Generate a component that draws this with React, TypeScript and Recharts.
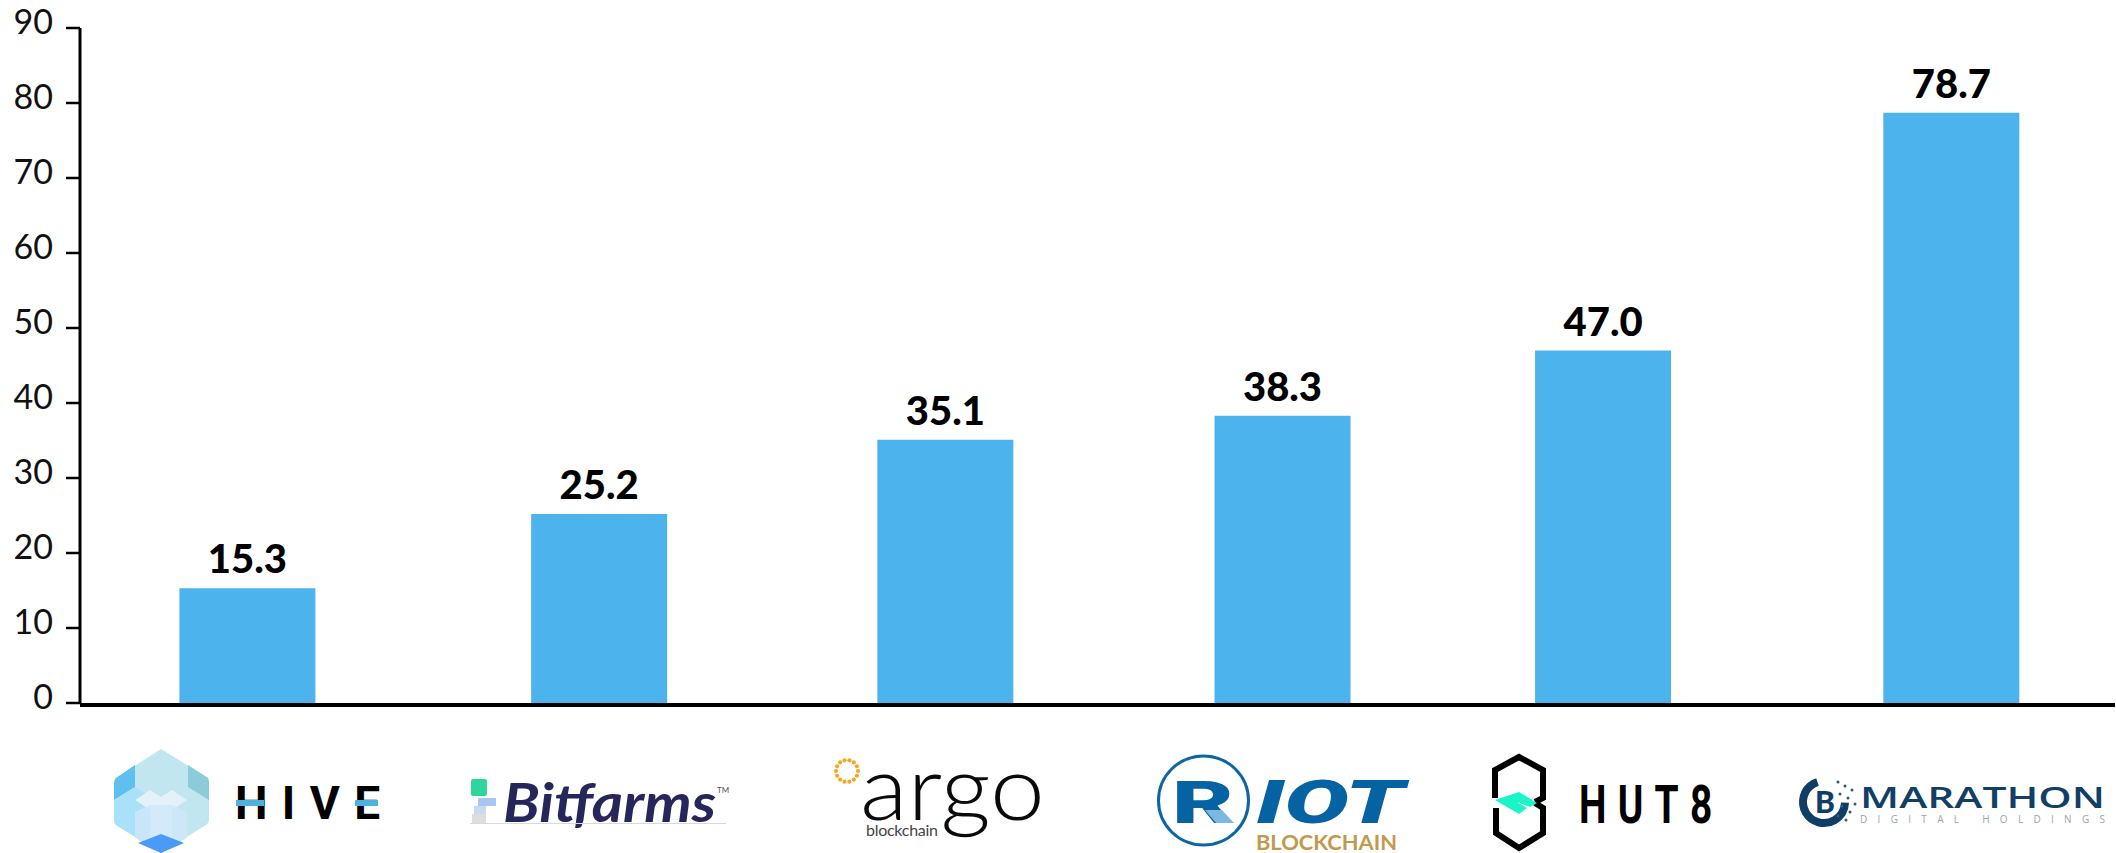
import { BarChart, Bar, XAxis, YAxis, LabelList, Rectangle } from "recharts";

// Values
const companies = ["HIVE", "Bitfarms", "Argo", "Riot", "Hut 8", "Marathon"];
const values = [15.3, 25.2, 35.1, 38.3, 47.0, 78.7];
const yTicks = [0, 10, 20, 30, 40, 50, 60, 70, 80, 90];

const chartData = companies.map((name, i) => ({ name, value: values[i] }));

const FONT = "Lato, sans-serif";
const PLOT_LEFT = 80;
const PLOT_WIDTH = 2035;
const PLOT_BOTTOM = 703;

// the bars in the original were placed by hand, so they sit a little off an even band
const barNudge = [-2.6, 10, 17, 15, -3.6, 5.5];

// centre of band i, lets the logos below be written in page coordinates
const bandCentre = (i: number) => PLOT_LEFT + (PLOT_WIDTH * (i + 0.5)) / companies.length;

const HiveLogo = () => (
  <g>
    <path d="M161 749 L208 778 Q209 780 209 783 L209 820 Q209 823 206 825 L161 853 L116 825 Q114 823 114 820 L114 783 Q114 780 116 778 Z" fill="#C2E6F0" />
    <path d="M135 765 L116 778 Q114 780 114 783 L114 800 L135 787 Z" fill="#5FC0EF" />
    <path d="M188 765 L208 778 Q209 780 209 783 L209 800 L188 787 Z" fill="#8CCBD8" />
    <path d="M114 800 L135 787 L161 803 L161 853 L116 825 Q114 823 114 820 Z" fill="#A9E1F9" />
    <path d="M135 800 L150 790 L161 797 L172 790 L187 800 L172 810 L172 840 L150 840 L150 810 Z" fill="#E3F2FA" />
    <path d="M135 812 L150 805 L172 805 L187 812 L187 838 L161 853 L135 838 Z" fill="#CFE6FA" opacity={0.8} />
    <path d="M161 834 L184 843 L161 853 L138 843 Z" fill="#4A9BF5" />
    <g fontFamily="Roboto, sans-serif" fontWeight={700} fontSize={46} fill="#000">
      <text x={235} y={819} textLength={145} lengthAdjust="spacing">HIVE</text>
    </g>
    <rect x={236} y={800} width={28} height={6} fill="#4DB3DC" />
    <rect x={355} y={800} width={23} height={6} fill="#4DB3DC" />
  </g>
);

const BitfarmsLogo = () => (
  <g>
    <rect x={471} y={779} width={16} height={17} rx={2} fill="#2FD69A" />
    <rect x={478} y={798} width={18} height={8} fill="#A9C6F0" />
    <rect x={474} y={806} width={12} height={8} fill="#C9D9F2" />
    <rect x={472} y={814} width={14} height={9} fill="#DDDDDD" />
    <text x={503} y={822} fontFamily={FONT} fontWeight={700} fontStyle="italic" fontSize={54} fill="#26265A" textLength={213} lengthAdjust="spacingAndGlyphs">Bitfarms</text>
    <text x={717} y={793} fontFamily={FONT} fontSize={8} fill="#555">TM</text>
    <rect x={470} y={823} width={256} height={1} fill="#D9D9D9" />
  </g>
);

const ArgoLogo = () => (
  <g>
    {Array.from({ length: 14 }).map((_, i) => (
      <circle key={i} cx={847 + 11 * Math.cos((i * Math.PI) / 7)} cy={771 + 11 * Math.sin((i * Math.PI) / 7)} r={2.1} fill="#F5A623" />
    ))}
    <text x={860} y={820} fontFamily={FONT} fontWeight={300} fontSize={90} fill="#0A0A0A" textLength={185} lengthAdjust="spacingAndGlyphs">argo</text>
    <text x={866} y={836} fontFamily={FONT} fontSize={16} fill="#444" textLength={72}>blockchain</text>
  </g>
);

const RiotLogo = () => (
  <g>
    <ellipse cx={1203.5} cy={800.5} rx={45} ry={44.5} fill="none" stroke="#0B66A8" strokeWidth={3} />
    <text x={1172} y={823} fontFamily="Roboto, sans-serif" fontWeight={900} fontSize={60} fill="#0563A3" textLength={62} lengthAdjust="spacingAndGlyphs">R</text>
    <polygon points="1205,810 1222,810 1234,823 1216,823" fill="#7DB8E0" />
    <text x={1256} y={823} fontFamily="Roboto, sans-serif" fontWeight={900} fontStyle="italic" fontSize={60} fill="#0563A3" textLength={148} lengthAdjust="spacingAndGlyphs">IOT</text>
    <text x={1256} y={850} fontFamily={FONT} fontWeight={700} fontSize={20} fill="#C19A4B" textLength={141} lengthAdjust="spacingAndGlyphs">BLOCKCHAIN</text>
  </g>
);

const Hut8Logo = () => (
  <g>
    <path d="M1535 802 L1543 798 L1543 770 L1519 757 L1495 770 L1495 798" fill="none" stroke="#000" strokeWidth={6} />
    <path d="M1535 803 L1543 808 L1543 833 L1519 848 L1496 833 L1496 808" fill="none" stroke="#000" strokeWidth={6} />
    <polygon points="1495,800 1519,792 1537,803 1530,807 1517,802 1527,808 1519,814" fill="#19F5C8" />
    <text transform="translate(1579,823) scale(0.72,1)" fontFamily="Roboto, sans-serif" fontWeight={700} fontSize={54} fill="#000" textLength={185} lengthAdjust="spacing">HUT8</text>
  </g>
);

const MarathonLogo = () => (
  <g>
    <circle cx={1824} cy={802} r={21} fill="none" stroke="#0F3D66" strokeWidth={8} strokeDasharray="70 40" transform="rotate(60 1824 802)" />
    <text x={1825} y={813} textAnchor="middle" fontFamily={FONT} fontWeight={900} fontSize={30} fill="#0F3D66">B</text>
    {[[1838, 782], [1845, 786], [1852, 790], [1840, 794], [1848, 798], [1855, 804], [1842, 806], [1850, 812], [1838, 816], [1846, 820]].map(([cx, cy], i) => (
      <circle key={i} cx={cx} cy={cy} r={1.5} fill="#2A5A85" />
    ))}
    <text x={1860} y={808} fontFamily="Open Sans, sans-serif" fontWeight={600} fontSize={28} fill="#123F66" textLength={245} lengthAdjust="spacingAndGlyphs">MARATHON</text>
    <text x={1860} y={823} fontFamily="Open Sans, sans-serif" fontSize={10} fill="#9AA5AE" textLength={245} lengthAdjust="spacing">DIGITAL HOLDINGS</text>
  </g>
);

const logos = [HiveLogo, BitfarmsLogo, ArgoLogo, RiotLogo, Hut8Logo, MarathonLogo];

const LogoTick = ({ x, y, index }: any) => {
  const Logo = logos[index];
  return (
    <g transform={`translate(${x - bandCentre(index)},${y - PLOT_BOTTOM})`}>
      <Logo />
    </g>
  );
};

const ValueTick = ({ x, y, payload }: any) => (
  <text x={x} y={y + 6} textAnchor="end" fontFamily={FONT} fontSize={34} fill="#111">
    {payload.value}
  </text>
);

const NudgedBar = (props: any) => (
  <Rectangle x={props.x + barNudge[props.index]} y={props.y} width={props.width} height={props.height} fill="#4DB3EC" />
);

const BarValue = ({ x, y, width, value, index }: any) => (
  <text x={x + width / 2 + barNudge[index]} y={y - 15} textAnchor="middle" fontFamily={FONT} fontWeight={900} fontSize={40} fill="#000">
    {Number(value).toFixed(1)}
  </text>
);

export default function App() {
  return (
    <div style={{ position: "absolute", left: 0, top: 0, width: 2116, height: 853, background: "#fff" }}>
      <BarChart width={2116} height={853} data={chartData} margin={{ top: 28, right: 1, bottom: 0, left: 0 }}>
        <XAxis
          dataKey="name"
          interval={0}
          tickLine={false}
          tickSize={0}
          tickMargin={0}
          height={150}
          tick={<LogoTick />}
          axisLine={{ stroke: "#000", strokeWidth: 4, transform: "translate(0,2)" }}
        />
        <YAxis
          domain={[0, 90]}
          ticks={yTicks}
          interval={0}
          width={80}
          tickSize={14}
          tickMargin={13}
          tick={<ValueTick />}
          tickLine={{ stroke: "#000", strokeWidth: 2.5 }}
          axisLine={{ stroke: "#000", strokeWidth: 3 }}
        />
        <Bar dataKey="value" barSize={136} shape={<NudgedBar />} isAnimationActive={false}>
          <LabelList dataKey="value" content={<BarValue />} />
        </Bar>
      </BarChart>
    </div>
  );
}
